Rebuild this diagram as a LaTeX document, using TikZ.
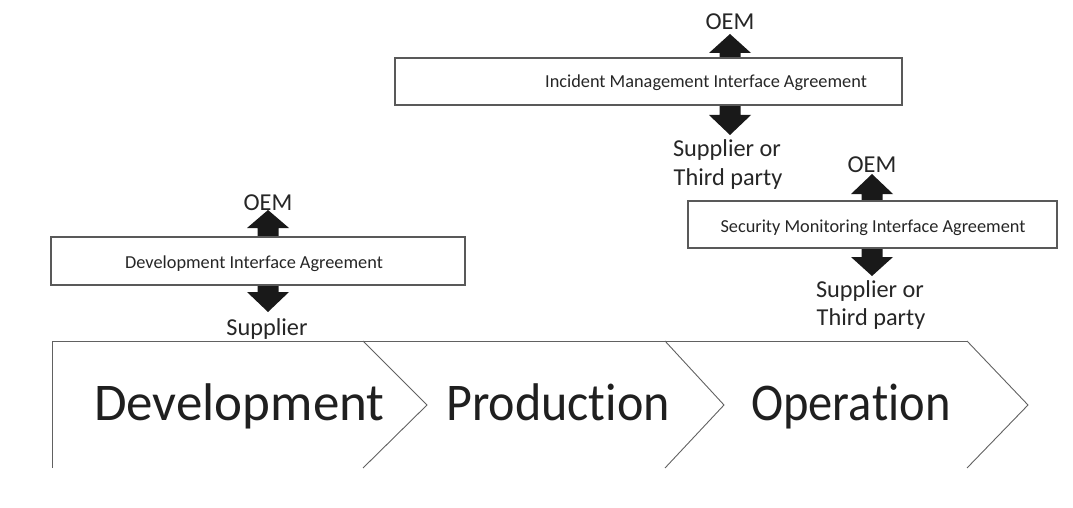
\documentclass[tikz,border=0pt]{standalone}
\usepackage{fontspec}
\setmainfont{Carlito}[Ligatures={NoCommon}]
\begin{document}
\begin{tikzpicture}[x=1pt,y=-1pt,
  agr/.style={draw=black!65, line width=1.1pt, fill=white, inner sep=0pt},
  boxtext/.style={font=\fontsize{18.3}{20}\selectfont, text=black!85, anchor=base, inner sep=0pt},
  lbl/.style={font=\fontsize{24.3}{28}\selectfont, text=black!85, anchor=base, inner sep=0pt},
  phase/.style={font=\fontsize{53}{60}\selectfont, text=black!88, anchor=base west, inner sep=0pt},
  chev/.style={draw=black!62, line width=0.9pt},
  blk/.style={fill=black!90}]
\useasboundingbox (0,0) rectangle (1073,508);
\newcommand\blockarr[4]{% x, base y, head base y, tip y
  \fill[blk] (#1-10.5,#2) -- (#1-10.5,#3) -- (#1-21,#3) -- (#1,#4) -- (#1+21,#3) -- (#1+10.5,#3) -- (#1+10.5,#2) -- cycle;}

% phase chevrons
\coordinate (tl) at (52,341);
\coordinate (bl) at (52,468);
\coordinate (d1) at (363,341); \coordinate (d2) at (427,405); \coordinate (d3) at (363,468);
\coordinate (p1) at (665,341); \coordinate (p2) at (724,405); \coordinate (p3) at (665,468);
\coordinate (o1) at (967,341); \coordinate (o2) at (1028,405); \coordinate (o3) at (967,468);
\draw[chev] (bl) -- (tl) -- (o1);
\draw[chev] (d1) -- (d2) -- (d3);
\draw[chev] (p1) -- (p2) -- (p3);
\draw[chev] (o1) -- (o2) -- (o3);
\node[phase] (dev) at (94,420) {Development};
\node[phase] (prod) at (446,420) {\scalebox{0.945}[1]{Produc\kern0pt tion}};
\node[phase] (oper) at (751,420) {\scalebox{0.915}[1]{Opera\kern0pt tion}};

% Development interface agreement
\blockarr{268}{240}{228}{210}
\blockarr{268}{282}{292}{312}
\node[agr, minimum width=414pt, minimum height=48pt] (dia) at (258,261) {};
\node[boxtext] (diat) at (254,268) {Development Interface Agreement};
\node[lbl] (dioem) at (268,210) {OEM};
\node[lbl] (disup) at (267,335) {Supplier};

% Incident management interface agreement
\blockarr{730}{61}{53}{34}
\blockarr{730}{103}{115}{135}
\node[agr, minimum width=507pt, minimum height=47pt] (ima) at (648.5,81.5) {};
\node[boxtext] (imat) at (706,88) {Incident Management Interface Agreement};
\node[lbl] (imoem) at (730,30) {OEM};
\node[lbl] (imsup1) at (727,156) {Supplier or};
\node[lbl] (imsup2) at (728,185) {Third party};

% Security monitoring interface agreement
\blockarr{872}{203}{194}{174}
\blockarr{872}{245}{257}{276}
\node[agr, minimum width=369pt, minimum height=47pt] (sma) at (872.5,224.5) {};
\node[boxtext] (smat) at (873,232) {Security Monitoring Interface Agreement};
\node[lbl] (smoem) at (872,172) {OEM};
\node[lbl] (smsup1) at (870,297) {Supplier or};
\node[lbl] (smsup2) at (871,325) {Third party};
\end{tikzpicture}
\end{document}
